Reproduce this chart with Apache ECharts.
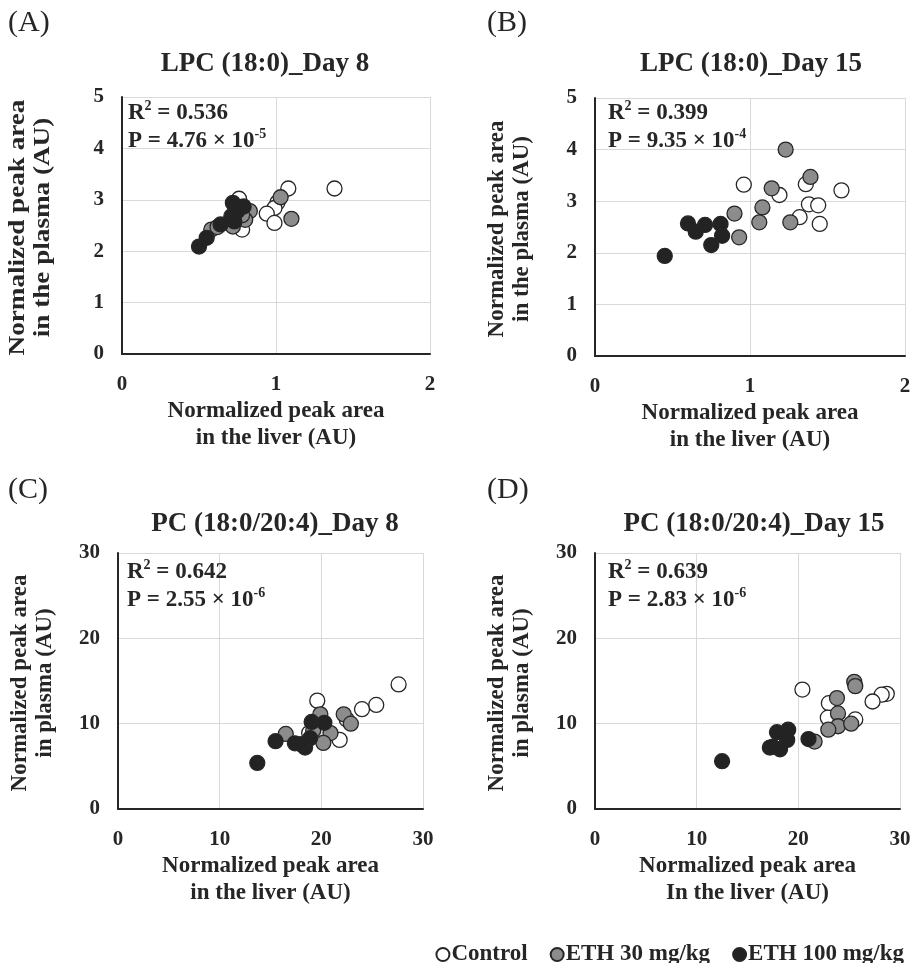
<!DOCTYPE html>
<html><head><meta charset="utf-8">
<script src="https://cdn.jsdelivr.net/npm/echarts@6/dist/echarts.min.js"></script>
<style>html,body{margin:0;padding:0;background:#fff}#c{width:915px;height:963px}</style>
</head><body><div id="c"></div><script>
// ---- data (x = liver, y = plasma) ----
const aControl = [[1.38,3.22],[1.08,3.22],[1.01,2.95],[0.99,2.84],[0.94,2.73],[0.99,2.55],[0.76,3.02],[0.78,2.42]];
const aEth30   = [[1.03,3.05],[1.10,2.63],[0.83,2.78],[0.80,2.61],[0.72,2.48],[0.58,2.42],[0.78,2.70],[0.62,2.47]];
const aEth100  = [[0.50,2.09],[0.55,2.26],[0.64,2.52],[0.72,2.94],[0.79,2.87],[0.71,2.68],[0.73,2.58],[0.75,2.78]];

const bControl = [[0.96,3.32],[1.36,3.33],[1.19,3.12],[1.59,3.21],[1.38,2.94],[1.44,2.92],[1.32,2.69],[1.45,2.56]];
const bEth30   = [[1.23,4.00],[1.39,3.47],[1.14,3.25],[1.08,2.88],[0.90,2.76],[1.06,2.59],[1.26,2.59],[0.93,2.30]];
const bEth100  = [[0.45,1.94],[0.60,2.57],[0.65,2.41],[0.71,2.54],[0.81,2.56],[0.82,2.33],[0.75,2.15]];

const cControl = [[27.6,14.6],[25.4,12.2],[24.0,11.7],[19.6,12.7],[21.8,8.1],[22.5,10.5],[18.8,8.9]];
const cEth30   = [[22.2,11.1],[22.9,10.0],[20.9,8.9],[20.2,7.75],[19.9,11.1],[16.5,8.8],[19.2,9.2]];
const cEth100  = [[13.7,5.4],[15.5,7.95],[17.4,7.7],[18.4,7.2],[19.05,10.2],[20.3,10.1],[18.9,8.3],[18.0,7.6]];

const dControl = [[20.4,14.0],[28.7,13.5],[28.2,13.4],[27.3,12.6],[23.0,12.4],[22.9,10.7],[25.6,10.5]];
const dEth30   = [[25.5,14.9],[25.6,14.4],[23.8,13.0],[23.9,11.2],[23.9,9.7],[22.95,9.3],[25.2,10.0],[21.6,7.9]];
const dEth100  = [[12.5,5.6],[21.0,8.2],[17.9,9.0],[19.0,9.3],[17.2,7.2],[18.2,7.0],[18.9,8.1],[17.5,7.3]];

const groupNames = ['Control', 'ETH 30 mg/kg', 'ETH 100 mg/kg'];
const panelLabels = ['(A)', '(B)', '(C)', '(D)'];
const panelTitles = ['LPC (18:0)_Day 8', 'LPC (18:0)_Day 15', 'PC (18:0/20:4)_Day 8', 'PC (18:0/20:4)_Day 15'];
const r2Values = ['0.536', '0.399', '0.642', '0.639'];
const pMantissa = ['4.76', '9.35', '2.55', '2.83'];
const pExponent = ['-5', '-4', '-6', '-6'];
const xAxisNames = ['Normalized peak area\nin the liver (AU)', 'Normalized peak area\nin the liver (AU)',
                    'Normalized peak area\nin the liver (AU)', 'Normalized peak area\nIn the liver (AU)'];
const yAxisNames = ['Normalized peak area\nin the plasma (AU)', 'Normalized peak area\nin the plasma (AU)',
                    'Normalized peak area\nin plasma (AU)', 'Normalized peak area\nin plasma (AU)'];
const xRanges = [[0, 2, 1], [0, 2, 1], [0, 30, 10], [0, 30, 10]];
const yRanges = [[0, 5, 1], [0, 5, 1], [0, 30, 10], [0, 30, 10]];
const panelData = [
  [aControl, aEth30, aEth100],
  [bControl, bEth30, bEth100],
  [cControl, cEth30, cEth100],
  [dControl, dEth30, dEth100]
];

// ---- layout / style ----
const FONT = "'Liberation Serif', 'Times New Roman', serif";
const INK = '#262626';
const fills = ['#ffffff', '#8c8c8c', '#232323'];
const grids = [
  { left: 122, top: 97,  width: 308, height: 257 },
  { left: 595, top: 98,  width: 310, height: 258 },
  { left: 118, top: 553, width: 305, height: 256 },
  { left: 595, top: 553, width: 305, height: 256 }
];
const titleCenters = [265, 751, 275, 754];
const yNameCenters = [30.5, 509.5, 32.5, 509.5];
const yNameStretch = [1.18, 1, 1, 1];

const xAxis = [], yAxis = [], series = [], graphic = [];
grids.forEach((g, i) => {
  xAxis.push({
    type: 'value', gridIndex: i, min: xRanges[i][0], max: xRanges[i][1], interval: xRanges[i][2],
    axisLine: { show: true, onZero: false, lineStyle: { color: INK, width: 2 } },
    axisTick: { show: false },
    splitLine: { show: true, lineStyle: { color: '#d9d9d9', width: 1 } },
    axisLabel: { margin: 20, color: INK, fontFamily: FONT, fontWeight: 'bold', fontSize: 21 },
    name: xAxisNames[i], nameLocation: 'middle', nameGap: 44,
    nameTextStyle: { color: INK, fontFamily: FONT, fontWeight: 'bold', fontSize: 23, lineHeight: 27 }
  });
  yAxis.push({
    type: 'value', gridIndex: i, min: yRanges[i][0], max: yRanges[i][1], interval: yRanges[i][2],
    axisLine: { show: true, onZero: false, lineStyle: { color: INK, width: 2 } },
    axisTick: { show: false },
    splitLine: { show: true, lineStyle: { color: '#d9d9d9', width: 1 } },
    axisLabel: { margin: 18, color: INK, fontFamily: FONT, fontWeight: 'bold', fontSize: 21 }
  });
  panelData[i].forEach((d, k) => {
    series.push({
      type: 'scatter', name: groupNames[k], xAxisIndex: i, yAxisIndex: i,
      data: d, symbol: 'circle', symbolSize: 15,
      itemStyle: { color: fills[k], borderColor: INK, borderWidth: 1.3, opacity: 1 },
      emphasis: { disabled: true }, z: 2 + k
    });
  });
  // y axis title (rotated)
  graphic.push({ type: 'text', x: yNameCenters[i], y: g.top + g.height / 2 + 2,
    rotation: Math.PI / 2, scaleX: yNameStretch[i],
    style: { text: yAxisNames[i], fill: INK, font: "bold 23px " + FONT, lineHeight: 25,
             align: 'center', verticalAlign: 'middle' } });
  // panel letter
  const colX = i % 2 === 0 ? 8 : 487;
  const rowY = i < 2 ? 23 : 490;
  graphic.push({ type: 'text', x: colX, y: rowY,
    style: { text: panelLabels[i], fill: INK, font: "30px " + FONT, align: 'left', verticalAlign: 'middle' } });
  // panel title
  graphic.push({ type: 'text', x: titleCenters[i], y: i < 2 ? 64 : 524,
    style: { text: panelTitles[i], fill: INK, font: "bold 27px " + FONT, align: 'center', verticalAlign: 'middle' } });
  // R2 / P annotation
  const annX = i === 0 ? 128 : (i === 2 ? 127 : 608);
  const annY = i < 2 ? 99 : 558;
  const base = { fontFamily: FONT, fontWeight: 'bold', fontSize: 23, lineHeight: 28, fill: INK };
  const sup = { fontFamily: FONT, fontWeight: 'bold', fontSize: 14, lineHeight: 14, fill: INK, verticalAlign: 'top' };
  graphic.push({ type: 'text', x: annX, y: annY,
    style: {
      text: '{b|R}{s|2}{b| = ' + r2Values[i] + '}\n{b|P = ' + pMantissa[i] + ' \u00d7 10}{s|' + pExponent[i] + '}',
      align: 'left', verticalAlign: 'top', fill: INK,
      rich: { b: base, s: sup }
    }, z: 10 });
});

const option = {
  backgroundColor: '#ffffff',
  animation: false,
  grid: grids.map(g => Object.assign({ containLabel: false }, g)),
  xAxis, yAxis, series, graphic,
  legend: {
    data: groupNames, right: 6, top: 938, icon: 'circle', itemWidth: 13, itemHeight: 13, itemGap: 22,
    selectedMode: false,
    textStyle: { color: INK, fontFamily: FONT, fontWeight: 'bold', fontSize: 23, padding: [0, 0, 0, -3] }
  }
};
const chart = echarts.init(document.getElementById('c'), null, { renderer: 'canvas' });
chart.setOption(option);
</script></body></html>
